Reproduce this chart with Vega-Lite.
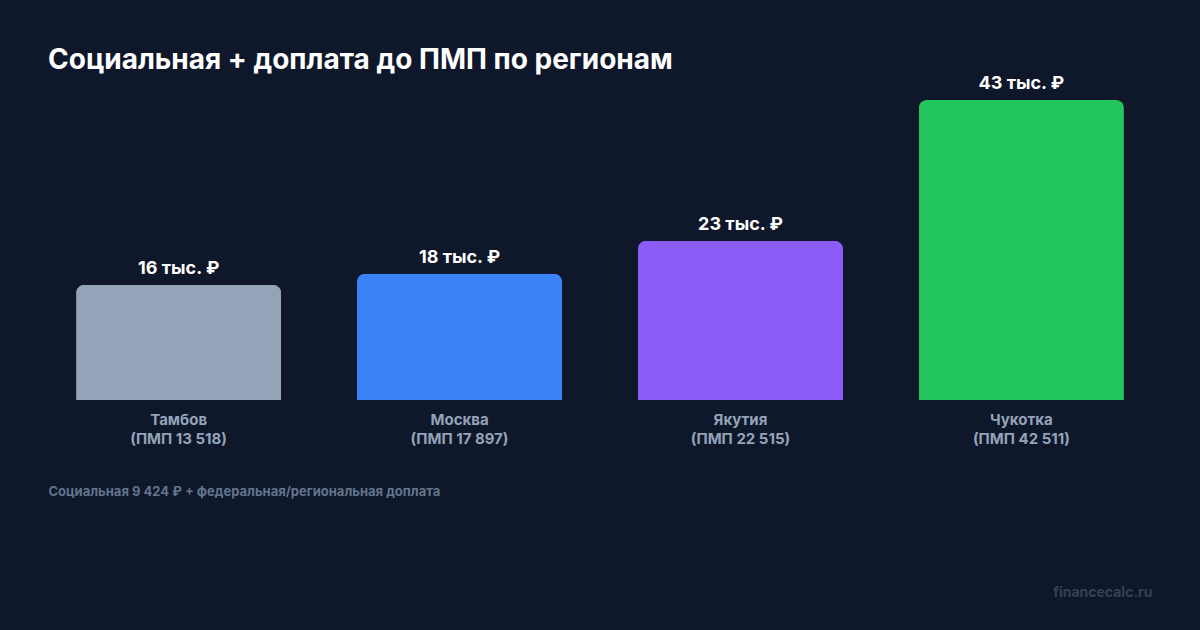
{
  "$schema": "https://vega.github.io/schema/vega-lite/v6.json",
  "width": 1104,
  "height": 300,
  "autosize": "none",
  "padding": {"left": 48, "top": 100, "right": 48, "bottom": 230},
  "background": "#0f172a",
  "title": {
    "text": "Социальная + доплата до ПМП по регионам",
    "anchor": "start",
    "frame": "group",
    "font": "Inter",
    "fontSize": 28,
    "fontWeight": 700,
    "color": "#ffffff",
    "baseline": "alphabetic",
    "offset": -22
  },
  "config": {
    "view": {"stroke": null},
    "font": "Inter"
  },
  "data": {
    "values": [
      {"region": "Тамбов|(ПМП 13 518)", "value": 16.5, "label": "16 тыс. ₽"},
      {"region": "Москва|(ПМП 17 897)", "value": 18.1, "label": "18 тыс. ₽"},
      {"region": "Якутия|(ПМП 22 515)", "value": 22.8, "label": "23 тыс. ₽"},
      {"region": "Чукотка|(ПМП 42 511)", "value": 43.0, "label": "43 тыс. ₽"}
    ]
  },
  "encoding": {
    "x": {
      "field": "region",
      "type": "nominal",
      "sort": null,
      "scale": {"paddingInner": 0.27, "paddingOuter": 0.1},
      "axis": {
        "title": "Социальная 9 424 ₽ + федеральная/региональная доплата",
        "titleFont": "Inter",
        "titleFontSize": 13,
        "titleFontWeight": 700,
        "titleColor": "#64748b",
        "titleAnchor": "start",
        "titleAlign": "left",
        "titleBaseline": "alphabetic",
        "titleX": 0,
        "titleY": 95,
        "labelExpr": "split(datum.label, '|')",
        "labelAngle": 0,
        "labelFont": "Inter",
        "labelFontSize": 15,
        "labelFontWeight": 700,
        "labelColor": "#94a3b8",
        "labelLineHeight": 19,
        "labelPadding": 12,
        "ticks": false,
        "domain": false,
        "grid": false
      }
    },
    "y": {
      "field": "value",
      "type": "quantitative",
      "scale": {"domain": [0, 43], "nice": false},
      "axis": {
        "orient": "right",
        "title": "financecalc.ru",
        "titleAngle": 0,
        "titleFont": "Inter",
        "titleFontSize": 14,
        "titleFontWeight": 700,
        "titleColor": "#334155",
        "titleAlign": "right",
        "titleBaseline": "alphabetic",
        "titleX": 0,
        "titleY": 496,
        "labels": false,
        "ticks": false,
        "domain": false,
        "grid": false
      }
    }
  },
  "layer": [
    {
      "mark": {"type": "bar", "cornerRadiusTopLeft": 8, "cornerRadiusTopRight": 8},
      "encoding": {
        "color": {
          "field": "region",
          "type": "nominal",
          "sort": null,
          "scale": {"range": ["#94a3b8", "#3b82f6", "#8b5cf6", "#22c55e"]},
          "legend": null
        }
      }
    },
    {
      "mark": {
        "type": "text",
        "font": "Inter",
        "fontSize": 18,
        "fontWeight": 700,
        "color": "#ffffff",
        "baseline": "alphabetic",
        "dy": -11
      },
      "encoding": {
        "text": {"field": "label"}
      }
    }
  ]
}
